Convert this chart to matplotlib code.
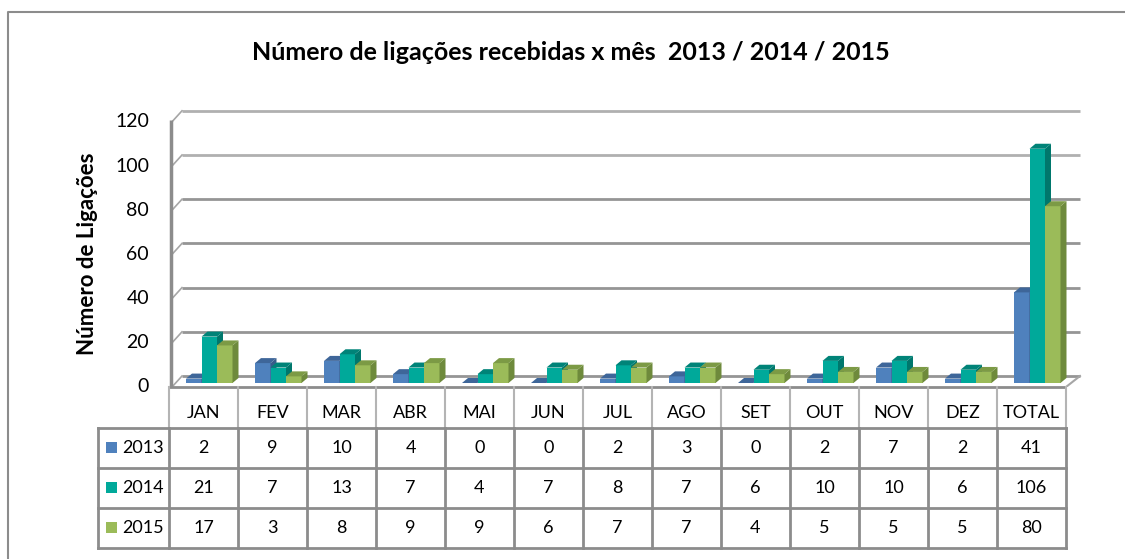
import matplotlib
matplotlib.use("Agg")
import matplotlib.pyplot as plt
from matplotlib.patches import Polygon, Rectangle

plt.rcParams['font.family'] = ['Lato', 'DejaVu Sans']

# dados
meses = ["JAN", "FEV", "MAR", "ABR", "MAI", "JUN", "JUL", "AGO", "SET", "OUT", "NOV", "DEZ", "TOTAL"]
anos = ["2013", "2014", "2015"]
v2013 = [2, 9, 10, 4, 0, 0, 2, 3, 0, 2, 7, 2, 41]
v2014 = [21, 7, 13, 7, 4, 7, 8, 7, 6, 10, 10, 6, 106]
v2015 = [17, 3, 8, 9, 9, 6, 7, 7, 4, 5, 5, 5, 80]
yticks = [0, 20, 40, 60, 80, 100, 120]

cor_frente = ['#4F81BD', '#00A99A', '#9BBB59']
cor_lado = ['#385D8A', '#00776C', '#6E8A3C']
cor_topo = ['#3E6699', '#008378', '#7C9A45']

W, H = 1125, 559
fig = plt.figure(figsize=(W / 100, H / 100), dpi=100)
fig.patch.set_facecolor('white')

# geometria em pixels
x0, col = 169, 69          # borda esquerda da tabela e largura da coluna
y0, ppu = 387, 2.21        # piso (frente) e pixels por unidade
ytop, xright = 100, 1085
ddx, ddy = 10 / col, 11 / ppu   # profundidade da parede do fundo

ax = fig.add_axes([x0 / W, (H - y0) / H, (xright - x0) / W, (y0 - ytop) / H])
ax.set_xlim(-0.5, -0.5 + (xright - x0) / col)
ax.set_ylim(0, (y0 - ytop) / ppu)
ax.axis('off')

# linhas de grade (parede do fundo) e ligações diagonais
xg0 = -0.5 + 13 / col
xg1 = -0.5 + (1080 - x0) / col
for v in yticks:
    cor = '#B0B0B0' if v >= 100 else '#959595'
    ax.plot([xg0, xg1], [v + ddy, v + ddy], color=cor, lw=2, zorder=1,
            solid_capstyle='butt')
    ax.plot([-0.5 + 4 / col, xg0], [v + 0.5, v + ddy], color='#A6A6A6', lw=1.2, zorder=1)
# eixo vertical
ax.plot([-0.5 + 2 / col] * 2, [0, 120 + 1], color='#8C8C8C', lw=2.5, zorder=2,
        solid_capstyle='butt')
# diagonal direita do piso
ax.plot([12.5, xg1], [0, ddy], color='#A6A6A6', lw=1.5, zorder=1)

# barras 3D
bw = 15.5 / col
dx, dy = 6 / col, 5 / ppu
base = 4 / ppu
series = [v2013, v2014, v2015]
for i, vals in enumerate(series):
    for c, v in enumerate(vals):
        xl = c - 0.5 + 17 / col + i * bw
        xr = xl + bw
        top = base + v
        z = 3 + i
        ax.add_patch(Rectangle((xl, base), bw, v, facecolor=cor_frente[i],
                               edgecolor='none', zorder=z))
        ax.add_patch(Polygon([(xr, base), (xr + dx, base + dy), (xr + dx, top + dy), (xr, top)],
                             closed=True, facecolor=cor_lado[i], edgecolor='none', zorder=z))
        ax.add_patch(Polygon([(xl, top), (xl + dx, top + dy), (xr + dx, top + dy), (xr, top)],
                             closed=True, facecolor=cor_topo[i], edgecolor='none', zorder=z))

# camada em pixels para textos e tabela
ov = fig.add_axes([0, 0, 1, 1], zorder=5)
ov.set_xlim(0, W)
ov.set_ylim(H, 0)
ov.axis('off')
ov.patch.set_alpha(0)

# moldura externa
ov.plot([8, 8, W], [H, 12, 12], color='#8C8C8C', lw=1.5)

ov.text(571, 53, "Número de ligações recebidas x mês  2013 / 2014 / 2015",
        ha='center', va='center', fontsize=18, fontweight='bold')
ov.text(88, 254, "Número de Ligações", rotation=90, ha='center', va='center',
        fontsize=16, fontweight='bold')

for v in yticks:
    ov.text(149, y0 - v * ppu, str(v), ha='right', va='center', fontsize=14)

# tabela
ncol = len(meses)
xr_tab = x0 + ncol * col
ov.plot([x0, xr_tab], [y0, y0], color='#8C8C8C', lw=2, solid_capstyle='butt')
for k in range(ncol + 1):
    ov.plot([x0 + k * col] * 2, [y0, 428], color='#B4B4B4', lw=1.5)
rows_y = [428, 468, 508, 548]
for yy in rows_y:
    ov.plot([98, xr_tab], [yy, yy], color='#8C8C8C', lw=2, solid_capstyle='projecting')
for xx in [98] + [x0 + k * col for k in range(ncol + 1)]:
    ov.plot([xx, xx], [428, 548], color='#8C8C8C', lw=2, solid_capstyle='projecting')

for k, m in enumerate(meses):
    ov.text(x0 + (k + 0.5) * col, 413, m, ha='center', va='center', fontsize=13)

for i, (ano, vals) in enumerate(zip(anos, series)):
    yc = (rows_y[i] + rows_y[i + 1]) / 2
    ov.add_patch(Rectangle((106, yc - 6), 11, 11, facecolor=cor_frente[i], edgecolor='none'))
    ov.text(122, yc, ano, ha='left', va='center', fontsize=13)
    for k, v in enumerate(vals):
        ov.text(x0 + (k + 0.5) * col, yc, str(v), ha='center', va='center', fontsize=13)

fig.savefig("out.png", dpi=100)
